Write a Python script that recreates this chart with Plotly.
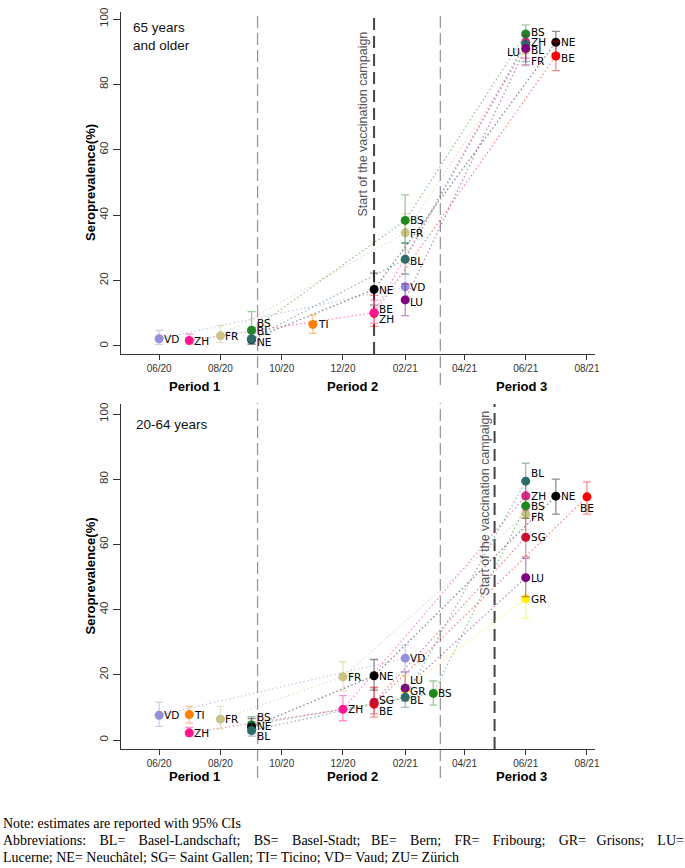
import plotly.graph_objects as go

# ---------------- DATA ----------------
# Panel 1: 65 years and older
old_canton = ["VD", "ZH", "FR", "BS", "BL", "NE", "TI",
              "NE", "BE", "ZH",
              "BS", "FR", "BL", "VD", "LU",
              "BS", "ZH", "BL", "LU", "FR",
              "NE", "BE"]
old_date = ["2020-06-01", "2020-07-01", "2020-08-01", "2020-09-01", "2020-09-01", "2020-09-01", "2020-11-01",
            "2021-01-01", "2021-01-01", "2021-01-01",
            "2021-02-01", "2021-02-01", "2021-02-01", "2021-02-01", "2021-02-01",
            "2021-06-01", "2021-06-01", "2021-06-01", "2021-06-01", "2021-06-01",
            "2021-07-01", "2021-07-01"]
old_est = [2.2, 1.7, 3.1, 4.8, 2.2, 2.0, 6.6,
           17.3, 10.0, 10.2,
           38.4, 34.6, 26.5, 18.1, 14.1,
           95.4, 92.9, 92.3, 91.0, 90.5,
           92.9, 88.7]
old_lo = [0.5, 0.6, 1.0, 2.0, 0.8, 0.5, 3.9,
          12.5, 6.0, 7.0,
          31.5, 29.5, 22.0, 14.5, 9.3,
          92.5, 88.0, 87.0, 86.0, 85.7,
          89.5, 84.2]
old_hi = [4.8, 3.6, 6.3, 10.5, 4.5, 4.0, 9.5,
          22.3, 15.5, 14.0,
          46.2, 40.5, 31.5, 22.0, 19.0,
          98.2, 96.0, 96.0, 95.0, 94.0,
          96.2, 93.2]

# Panel 2: 20-64 years
young_canton = ["VD", "TI", "ZH", "FR", "BS", "NE", "BL",
                "FR", "ZH",
                "NE", "SG", "BE",
                "VD", "LU", "GR", "BL",
                "BS",
                "BL", "ZH", "BS", "FR", "SG", "LU", "GR",
                "NE", "BE"]
young_date = ["2020-06-01", "2020-07-01", "2020-07-01", "2020-08-01", "2020-09-01", "2020-09-01", "2020-09-01",
              "2020-12-01", "2020-12-01",
              "2021-01-01", "2021-01-01", "2021-01-01",
              "2021-02-01", "2021-02-01", "2021-02-01", "2021-02-01",
              "2021-03-01",
              "2021-06-01", "2021-06-01", "2021-06-01", "2021-06-01", "2021-06-01", "2021-06-01", "2021-06-01",
              "2021-07-01", "2021-08-01"]
young_est = [7.6, 7.8, 2.2, 6.4, 4.6, 4.0, 2.9,
             19.4, 9.4,
             19.7, 11.6, 11.0,
             25.1, 15.9, 15.6, 13.1,
             14.3,
             79.4, 74.9, 71.8, 69.3, 62.2, 49.8, 43.3,
             74.8, 74.6]
young_lo = [4.2, 5.2, 1.2, 3.4, 2.6, 2.2, 1.2,
            15.0, 5.9,
            15.3, 8.0, 7.0,
            21.0, 12.0, 12.5, 10.0,
            10.7,
            74.0, 70.5, 68.0, 64.5, 56.2, 44.0, 37.3,
            69.3, 69.3]
young_hi = [11.6, 10.3, 3.9, 10.3, 7.2, 6.6, 5.6,
            24.0, 13.6,
            24.7, 16.0, 16.2,
            29.1, 20.9, 19.5, 16.5,
            18.1,
            84.9, 79.0, 75.5, 73.5, 68.0, 55.7, 49.5,
            80.0, 79.2]

x_tick_vals = ["2020-06-01", "2020-08-01", "2020-10-01", "2020-12-01",
               "2021-02-01", "2021-04-01", "2021-06-01", "2021-08-01"]
x_tick_text = ["06/20", "08/20", "10/20", "12/20", "02/21", "04/21", "06/21", "08/21"]
y_tick_vals = [0, 20, 40, 60, 80, 100]

period_bounds = ["2020-09-07", "2021-03-08"]
vacc_start_old = "2021-01-01"
vacc_start_young = "2021-05-01"
period_labels = ["Period 1", "Period 2", "Period 3"]

# ---------------- STYLE ----------------
COLORS = {
    "VD": "#9490DA", "ZH": "#FF1493", "FR": "#CBC286", "BS": "#1E8A1E",
    "BL": "#2E6C6A", "NE": "#000000", "TI": "#FF8000", "BE": "#FF0000",
    "LU": "#800080", "SG": "#C8102E", "GR": "#FFF000",
}
ORDER_OLD = ["FR", "NE", "BE", "ZH", "VD", "TI", "BS", "BL", "LU"]
ORDER_YOUNG = ["FR", "BE", "SG", "GR", "LU", "VD", "TI", "ZH", "BS", "NE", "BL"]

# label offsets (px): (dy, mode)
OFF_OLD = {
    ("ZH", "2020-07-01"): (-1, "r"),
    ("BS", "2020-09-01"): (7, "r"),
    ("BL", "2020-09-01"): (8, "r"),
    ("NE", "2020-09-01"): (-3, "r"),
    ("NE", "2021-01-01"): (-1, "r"),
    ("BE", "2021-01-01"): (4, "r"),
    ("ZH", "2021-01-01"): (-6, "r"),
    ("BL", "2021-02-01"): (-2, "r"),
    ("LU", "2021-02-01"): (-2, "r"),
    ("BS", "2021-06-01"): (2, "r"),
    ("BL", "2021-06-01"): (-6, "r"),
    ("LU", "2021-06-01"): (-4, "l"),
    ("FR", "2021-06-01"): (-11, "r"),
    ("BE", "2021-07-01"): (-2, "r"),
}
OFF_YOUNG = {
    ("BS", "2020-09-01"): (8, "r"),
    ("NE", "2020-09-01"): (1, "r"),
    ("BL", "2020-09-01"): (-5, "r"),
    ("SG", "2021-01-01"): (2, "r"),
    ("BE", "2021-01-01"): (-7, "r"),
    ("LU", "2021-02-01"): (8, "r"),
    ("GR", "2021-02-01"): (-2, "r"),
    ("BL", "2021-02-01"): (-3, "r"),
    ("BL", "2021-06-01"): (8, "r"),
    ("FR", "2021-06-01"): (-3, "r"),
    ("BE", "2021-08-01"): (-11, "b"),
}


def rgba(h, a):
    h = h.lstrip("#")
    r, g, b = int(h[0:2], 16), int(h[2:4], 16), int(h[4:6], 16)
    return f"rgba({r},{g},{b},{a})"


W, H = 685, 868
fig = go.Figure()
annotations = []


def add_panel(canton, dates, est, lo, hi, order, offsets, xa, ya):
    # connecting dotted lines
    for c in order:
        idx = sorted([i for i in range(len(canton)) if canton[i] == c], key=lambda i: dates[i])
        if len(idx) > 1:
            fig.add_trace(go.Scatter(
                x=[dates[i] for i in idx], y=[est[i] for i in idx],
                mode="lines", xaxis=xa, yaxis=ya, showlegend=False, hoverinfo="skip",
                line=dict(color=rgba(COLORS[c], 0.5), width=1.2, dash="1.5px,2.5px"),
            ))
    # points with CIs
    for c in order:
        idx = [i for i in range(len(canton)) if canton[i] == c]
        fig.add_trace(go.Scatter(
            x=[dates[i] for i in idx], y=[est[i] for i in idx],
            mode="markers", xaxis=xa, yaxis=ya, showlegend=False,
            marker=dict(color=COLORS[c], size=9, line=dict(width=0)),
            error_y=dict(type="data", symmetric=False,
                         array=[hi[i] - est[i] for i in idx],
                         arrayminus=[est[i] - lo[i] for i in idx],
                         color=rgba(COLORS[c], 0.45), thickness=1.3, width=4),
        ))
    # labels
    for i in range(len(canton)):
        dy, mode = offsets.get((canton[i], dates[i]), (0, "r"))
        if mode == "r":
            xs, xanc = 3, "left"
        elif mode == "l":
            xs, xanc = -4, "right"
        else:
            xs, xanc = 0, "center"
        annotations.append(dict(
            x=dates[i], y=est[i], xref=xa, yref=ya, text=canton[i], showarrow=False,
            xanchor=xanc, yanchor="middle", xshift=xs, yshift=dy,
            font=dict(family="DejaVu Sans", size=10.5, color="#000000"),
        ))


add_panel(old_canton, old_date, old_est, old_lo, old_hi, ORDER_OLD, OFF_OLD, "x", "y")
add_panel(young_canton, young_date, young_est, young_lo, young_hi, ORDER_YOUNG, OFF_YOUNG, "x2", "y2")


def px_x(p):
    return p / W


def px_y(p):
    return (H - p) / H


xdom = [px_x(121), px_x(595)]
top_dom = [px_y(354), px_y(12)]
bot_dom = [px_y(749), px_y(404)]

axis_common = dict(showline=True, linecolor="#333333", linewidth=1, ticks="outside",
                   tickcolor="#333333", showgrid=False, zeroline=False, mirror=False)
xcommon = dict(axis_common, type="date", range=["2020-04-24", "2021-08-09"],
               tickvals=x_tick_vals, ticktext=x_tick_text, ticklen=5,
               tickfont=dict(family="Liberation Sans", size=10, color="#333333"), domain=xdom)
ycommon = dict(axis_common, tickvals=y_tick_vals, ticklen=7, tickangle=-90,
               tickfont=dict(family="Liberation Sans", size=11.5, color="#333333"))

fig.update_layout(
    width=W, height=H, margin=dict(l=0, r=0, t=0, b=0, autoexpand=False),
    paper_bgcolor="white", plot_bgcolor="white", showlegend=False,
    xaxis=dict(xcommon, anchor="y"),
    yaxis=dict(ycommon, domain=top_dom, range=[-2.45, 102.14], anchor="x"),
    xaxis2=dict(xcommon, anchor="y2"),
    yaxis2=dict(ycommon, domain=bot_dom, range=[-2.76, 103.07], anchor="x2"),
)

shapes = []
# period boundaries
for xb in period_bounds:
    shapes.append(dict(type="line", xref="x", yref="paper", x0=xb, x1=xb,
                       y0=px_y(385), y1=px_y(13), layer="below",
                       line=dict(color="#9a9a9a", width=1.3, dash="12px,5px")))
    shapes.append(dict(type="line", xref="x2", yref="paper", x0=xb, x1=xb,
                       y0=px_y(778), y1=px_y(403), layer="below",
                       line=dict(color="#9a9a9a", width=1.3, dash="12px,5px")))
# vaccination start
shapes.append(dict(type="line", xref="x", yref="y domain", x0=vacc_start_old, x1=vacc_start_old,
                   y0=0, y1=1, layer="below", line=dict(color="#444444", width=2, dash="12px,6px")))
shapes.append(dict(type="line", xref="x2", yref="y2 domain", x0=vacc_start_young, x1=vacc_start_young,
                   y0=0, y1=1, layer="below", line=dict(color="#444444", width=2, dash="12px,6px")))
fig.update_layout(shapes=shapes)

# texts
sans = "Liberation Sans"


def ptext(text, x, y, size, color="#000", angle=0, xanchor="center", yanchor="middle", family=sans, **kw):
    return dict(x=px_x(x), y=px_y(y), xref="paper", yref="paper", text=text, textangle=angle,
                showarrow=False, xanchor=xanchor, yanchor=yanchor, align="left",
                font=dict(family=family, size=size, color=color), **kw)


annotations += [
    ptext("<b>Seroprevalence(%)</b>", 90, 183, 13, angle=-90),
    ptext("<b>Seroprevalence(%)</b>", 90, 576.5, 13, angle=-90),
    ptext("65 years<br>and older", 131, 18, 13.5, color="#111", xanchor="left", yanchor="top"),
    ptext("20-64 years", 134, 425, 13.5, color="#111", xanchor="left"),
    ptext("Start of the vaccination campaign", 362, 124.5, 12.5, color="#555555", angle=-90),
    ptext("Start of the vaccination campaign", 485, 503.5, 12.5, color="#555555", angle=-90),
]
for lab, cx in zip(period_labels, [194, 352, 521.5]):
    annotations.append(ptext(f"<b>{lab}</b>", cx, 386, 13))
    annotations.append(ptext(f"<b>{lab}</b>", cx, 776, 13))

note1 = "Note: estimates are reported with 95% CIs"
words2 = ["Abbreviations:", "BL=", "Basel-Landschaft;", "BS=", "Basel-Stadt;", "BE=", "Bern;",
          "FR=", "Fribourg;", "GR=", "Grisons;", "LU="]
note2 = ""
for k, w in enumerate(words2):
    if k > 0:
        note2 += " \u00a0\u00a0" + ("\u2009" if k % 5 != 0 else "")
    note2 += w
note3 = "Lucerne; NE= Neuchâtel; SG= Saint Gallen; TI= Ticino; VD= Vaud; ZU= Zürich"
for txt, yy in [(note1, 823), (note2, 840), (note3, 857)]:
    annotations.append(ptext(txt, 1, yy, 14, xanchor="left", family="Liberation Serif"))

fig.update_layout(annotations=annotations)
fig.write_html("out.html", config={"displayModeBar": False},
               post_script="document.body.style.margin='0px';")
